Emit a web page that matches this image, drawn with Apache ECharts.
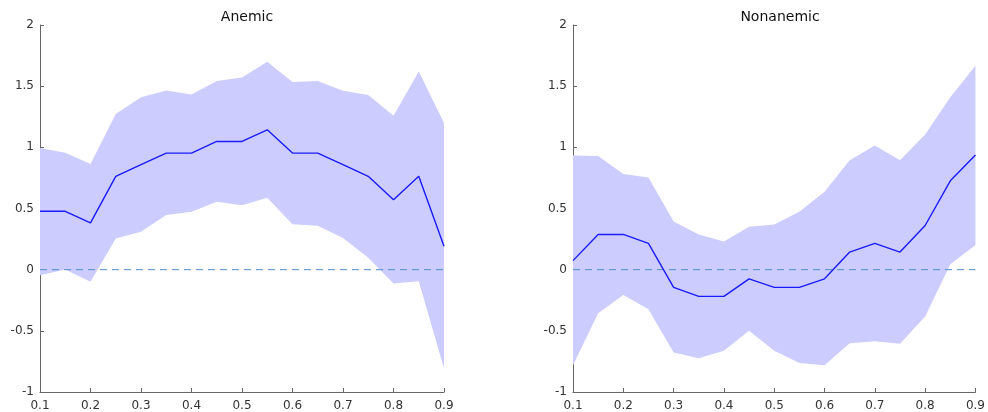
<!DOCTYPE html>
<html>
<head>
<meta charset="utf-8">
<script src="https://cdn.jsdelivr.net/npm/echarts@6/dist/echarts.min.js"></script>
<style>html,body{margin:0;padding:0;background:#fff;}#c{width:988px;height:412px;}</style>
</head>
<body>
<div id="c"></div>
<script>
const xs = [0.1,0.15,0.2,0.25,0.3,0.35,0.4,0.45,0.5,0.55,0.6,0.65,0.7,0.75,0.8,0.85,0.9];
const xTicks = ['0.1','0.2','0.3','0.4','0.5','0.6','0.7','0.8','0.9'];
const yTicks = ['-1','-0.5','0','0.5','1','1.5','2'];
const titles = ['Anemic','Nonanemic'];

const anemicMedian = [0.477,0.477,0.382,0.763,0.859,0.953,0.953,1.048,1.048,1.143,0.953,0.953,0.859,0.763,0.572,0.763,0.191];
const anemicUpper  = [0.995,0.956,0.864,1.272,1.41,1.464,1.432,1.543,1.57,1.70,1.535,1.543,1.462,1.427,1.259,1.619,1.199];
const anemicLower  = [-0.045,0.001,-0.099,0.255,0.309,0.447,0.474,0.556,0.526,0.588,0.372,0.358,0.258,0.098,-0.113,-0.094,-0.808];

const nonMedian = [0.074,0.288,0.288,0.215,-0.145,-0.218,-0.218,-0.075,-0.145,-0.145,-0.075,0.144,0.215,0.144,0.361,0.726,0.937];
const nonUpper  = [0.934,0.929,0.783,0.753,0.393,0.288,0.231,0.35,0.369,0.474,0.637,0.894,1.015,0.894,1.105,1.41,1.667];
const nonLower  = [-0.781,-0.356,-0.207,-0.324,-0.678,-0.724,-0.662,-0.499,-0.662,-0.762,-0.781,-0.602,-0.586,-0.605,-0.383,0.044,0.201];

const panels = [
  {median: anemicMedian, upper: anemicUpper, lower: anemicLower},
  {median: nonMedian, upper: nonUpper, lower: nonLower}
];

const FONT = 'DejaVu Sans';
const gridLefts = [40, 573];

function bandRenderer(lower, upper) {
  return function (params, api) {
    if (params.dataIndex !== 0) return null;
    const pts = [];
    for (let i = 0; i < xs.length; i++) pts.push(api.coord([xs[i], upper[i]]));
    for (let i = xs.length - 1; i >= 0; i--) pts.push(api.coord([xs[i], lower[i]]));
    return {type: 'polygon', shape: {points: pts}, style: {fill: '#ccccff'}, silent: true};
  };
}

const grid = [], xAxis = [], yAxis = [], series = [], title = [];
panels.forEach((p, k) => {
  grid.push({left: gridLefts[k], top: 25, width: 404, height: 369, containLabel: false});
  title.push({
    text: titles[k], left: gridLefts[k] + 202, top: 5, textAlign: 'center',
    textStyle: {fontFamily: FONT, fontSize: 14, fontWeight: 'normal', color: '#111'}
  });
  xAxis.push({
    type: 'value', gridIndex: k, min: 0.1, max: 0.9, interval: 0.1,
    axisLine: {show: true, onZero: false, lineStyle: {color: '#666', width: 1}},
    axisTick: {show: true, inside: true, length: 4, lineStyle: {color: '#666'}},
    axisLabel: {fontFamily: FONT, fontSize: 12, color: '#333', margin: 8,
      formatter: v => { const s = (Math.round(v * 10) / 10).toString(); return xTicks.indexOf(s) >= 0 ? s : ''; }},
    splitLine: {show: false}
  });
  yAxis.push({
    type: 'value', gridIndex: k, min: -1, max: 2, interval: 0.5,
    axisLine: {show: true, onZero: false, lineStyle: {color: '#666', width: 1}},
    axisTick: {show: true, inside: true, length: 4, lineStyle: {color: '#666'}},
    axisLabel: {fontFamily: FONT, fontSize: 12, color: '#333', margin: 6,
      formatter: v => { const s = (Math.round(v * 10) / 10).toString(); return yTicks.indexOf(s) >= 0 ? s : ''; }},
    splitLine: {show: false}
  });
  series.push({
    type: 'custom', xAxisIndex: k, yAxisIndex: k, z: 1, silent: true,
    renderItem: bandRenderer(p.lower, p.upper),
    data: xs.map((x, i) => [x, p.lower[i], p.upper[i]]),
    encode: {x: 0, y: [1, 2]}
  });
  series.push({
    type: 'line', xAxisIndex: k, yAxisIndex: k, z: 2, silent: true,
    data: [[xs[0], 0], [xs[xs.length - 1], 0]],
    showSymbol: false, symbol: 'none',
    lineStyle: {color: '#4f8fd0', width: 1, type: [7, 5]}
  });
  series.push({
    type: 'line', xAxisIndex: k, yAxisIndex: k, z: 3, silent: true,
    data: xs.map((x, i) => [x, p.median[i]]),
    showSymbol: false, symbol: 'none',
    lineStyle: {color: '#1a1aff', width: 1.4}
  });
});

const chart = echarts.init(document.getElementById('c'), null, {renderer: 'canvas'});
chart.setOption({animation: false, backgroundColor: '#fff', title, grid, xAxis, yAxis, series});
</script>
</body>
</html>
